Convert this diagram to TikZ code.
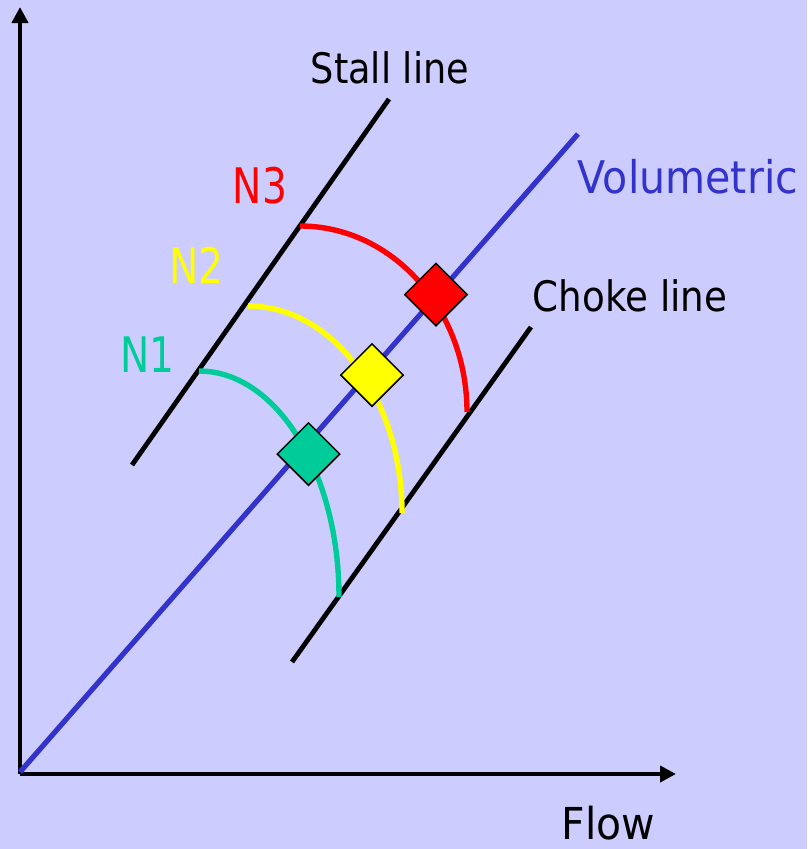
\documentclass[tikz,border=0pt]{standalone}
\usepackage{fontspec}
\usepackage{graphicx}
\usetikzlibrary{arrows.meta,shapes.geometric}
\newfontfamily\labfont{DejaVu Sans}
\definecolor{bgc}{HTML}{CCCCFF}
\definecolor{volc}{HTML}{3333CC}
\definecolor{nthreec}{HTML}{FF0000}
\definecolor{ntwoc}{HTML}{FFFF00}
\definecolor{nonec}{HTML}{00CC99}
\newcommand\narrowtxt[2]{\scalebox{#1}[1]{#2}}
\tikzset{
  axisline/.style={line width=4.6pt,-{Triangle[width=16pt,length=16pt]}},
  limitline/.style={line width=4.8pt,black},
  speedarc/.style={line width=5.4pt},
  opbox/.style={shape=diamond,aspect=1,inner sep=0pt,minimum width=63pt,minimum height=63pt,draw=black,line width=1.5pt},
  lab/.style={inner sep=0pt,anchor=base,font=\labfont\fontsize{42}{42}\selectfont},
  nlab/.style={inner sep=0pt,anchor=base,font=\labfont\fontsize{49}{49}\selectfont}
}
\begin{document}
\begin{tikzpicture}[x=1pt,y=-1pt]
\fill[bgc] (0,0) rectangle (807,849);
\useasboundingbox (0,0) rectangle (807,849);
% axes
\coordinate (O) at (20,774);
\coordinate (ytip) at (20,7);
\coordinate (xtip) at (676,774);
\draw[axisline] (O) -- (ytip);
\draw[axisline] (O) -- (xtip);
% volumetric line
\coordinate (volstart) at (20,772);
\coordinate (volend) at (578,134);
\draw[volc,line width=5.2pt] (volstart) -- (volend);
% stall and choke lines
\coordinate (stallA) at (132,465);
\coordinate (stallB) at (389,99);
\coordinate (chokeA) at (292,662);
\coordinate (chokeB) at (531,327);
\draw[limitline] (stallA) -- (stallB);
\draw[limitline] (chokeA) -- (chokeB);
% speed lines
\coordinate (s3) at (300,226);
\coordinate (s2) at (248,306);
\coordinate (s1) at (199,371);
\draw[speedarc,nthreec] (s3) arc[start angle=90,end angle=0,x radius=167pt,y radius=186pt];
\draw[speedarc,ntwoc] (s2) arc[start angle=90,end angle=0,x radius=154pt,y radius=207pt];
\draw[speedarc,nonec] (s1) arc[start angle=90,end angle=0,x radius=140pt,y radius=226pt];
% operating points
\node[opbox,fill=nthreec] (p3) at (436,294.5) {};
\node[opbox,fill=ntwoc] (p2) at (372,375) {};
\node[opbox,fill=nonec] (p1) at (308.5,454) {};
% labels
\node[lab] (stalllab) at (390,83) {\narrowtxt{0.873}{Stall line}};
\node[lab,volc,font=\labfont\fontsize{45}{45}\selectfont] (vollab) at (688,193) {\narrowtxt{0.914}{Volumetric}};
\node[lab] (chokelab) at (630,311) {\narrowtxt{0.887}{Choke line}};
\node[lab,font=\labfont\fontsize{44}{44}\selectfont] (flowlab) at (608.5,839) {\narrowtxt{0.93}{Flow}};
\node[nlab,nthreec] (n3lab) at (260,203) {\narrowtxt{0.8}{N3}};
\node[nlab,ntwoc] (n2lab) at (196.5,283) {\narrowtxt{0.8}{N2}};
\node[nlab,nonec] (n1lab) at (147.5,372) {\narrowtxt{0.8}{N1}};
\end{tikzpicture}
\end{document}
